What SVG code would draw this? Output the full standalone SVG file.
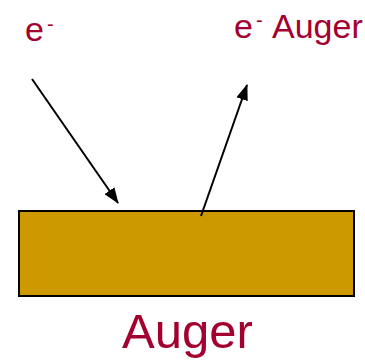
<svg xmlns="http://www.w3.org/2000/svg" width="365" height="362" viewBox="0 0 365 362">
<style>
.lbl{font-family:"Liberation Sans",Arial,sans-serif;fill:#A3002F}
.sm{font-size:34px}
.sup{font-size:20px}
.ln{stroke:#000;stroke-width:2;fill:none}
</style>
<defs>
<marker id="ah" markerWidth="16" markerHeight="12" refX="15" refY="6" orient="auto" markerUnits="userSpaceOnUse" viewBox="0 0 16 12">
<path d="M0,0 L16,6 L0,12 z" fill="#000"/>
</marker>
</defs>
<g id="surface">
<rect x="19" y="211" width="335" height="85" fill="#CC9900" stroke="#000" stroke-width="2"/>
</g>
<g id="connectors">
<line class="ln" x1="32" y1="79" x2="118" y2="203" marker-end="url(#ah)"/>
<line class="ln" x1="201" y1="216" x2="247" y2="85" marker-end="url(#ah)"/>
</g>
<g id="incident">
<text class="lbl sm" x="25" y="41">e</text>
<text class="lbl sup" x="47" y="31">-</text>
</g>
<g id="auger-electron">
<text class="lbl sm" x="234" y="38">e</text>
<text class="lbl sup" x="256" y="27">-</text>
<text class="lbl sm" x="272" y="38">Auger</text>
</g>
<g id="title">
<text class="lbl" x="122" y="348" font-size="49">Auger</text>
</g>
</svg>
